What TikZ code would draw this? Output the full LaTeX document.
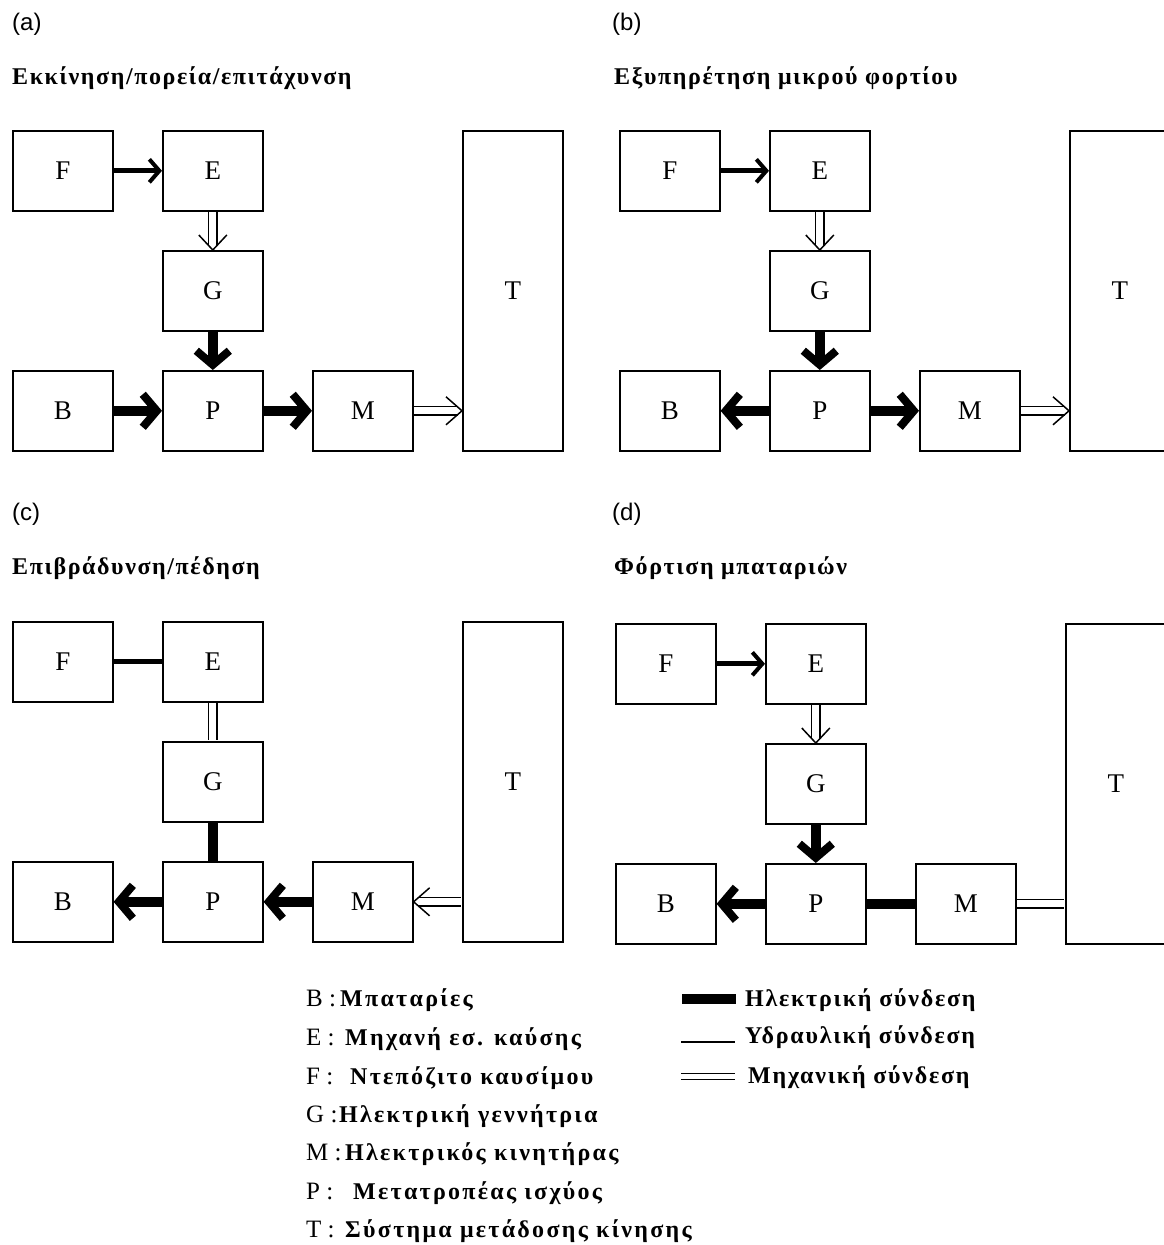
\documentclass[tikz,border=0pt]{standalone}
\usepackage{fontspec}
\setmainfont{Liberation Serif}
\newfontfamily\sanslab{Liberation Sans}
\newfontfamily\greektitle[LetterSpace=6.6]{Liberation Serif Bold}
\newfontfamily\greekkey[LetterSpace=9.5]{Liberation Serif Bold}
\newfontfamily\greeklink[LetterSpace=7.3]{Liberation Serif Bold}
\usetikzlibrary{arrows.meta,calc}

\tikzset{
  box/.style={draw, line width=1.6pt, minimum width=100pt, minimum height=80pt,
    anchor=north west, inner sep=0pt, font=\fontsize{27}{27}\selectfont},
  tallbox/.style={box, minimum height=320pt},
  elec/.style={line width=10pt},
  elecarr/.style={elec, -{Straight Barb[length=14pt, width=33pt, line width=8pt]}},
  fuel/.style={line width=5pt},
  fuelarr/.style={fuel, -{Straight Barb[length=10pt, width=23pt, line width=4pt]}},
  mech/.style={double, double distance=7pt, line width=1.5pt, shorten <=0.8pt},
  mechend/.style={mech, shorten >=4.5pt},
  barb/.style={line width=1.5pt, line join=miter},
  panellabel/.style={anchor=west, inner sep=0pt, font=\sanslab\fontsize{24}{24}\selectfont},
  paneltitle/.style={anchor=west, inner sep=0pt, font=\greektitle\fontsize{24}{24}\selectfont},
  keyletter/.style={anchor=base west, inner sep=0pt, font=\fontsize{25}{25}\selectfont},
  keytext/.style={anchor=base west, inner sep=0pt, font=\greekkey\fontsize{24}{24}\selectfont},
  linktext/.style={anchor=base west, inner sep=0pt, font=\greeklink\fontsize{24}{24}\selectfont},
}

% the seven blocks of one operating mode, prefixed by #1
\newcommand\modeblocks[1]{%
  \node[box] (#1F) at (0,0) {F};
  \node[box] (#1E) at (150,0) {E};
  \node[box] (#1G) at (150,120) {G};
  \node[box] (#1P) at (150,240) {P};
  \node[box] (#1B) at (0,240) {B};
  \node[box] (#1M) at (300,240) {M};
  \node[tallbox] (#1T) at (450,0) {T};
  \coordinate (#1MT) at (#1M.east -| #1T.west);
}
% open chevron of a mechanical link
\newcommand\tipdown[1]{\draw[barb] ($(#1)+(-14,-15)$) -- (#1) -- ($(#1)+(14,-15)$);}
\newcommand\tipright[1]{\draw[barb] ($(#1)+(-16,-14)$) -- (#1) -- ($(#1)+(-16,14)$);}
\newcommand\tipleft[1]{\draw[barb] ($(#1)+(16,-14)$) -- (#1) -- ($(#1)+(16,14)$);}

\begin{document}
\begin{tikzpicture}[x=1pt, y=-1pt]
\useasboundingbox (0,0) rectangle (1164,1245);
\fill[white] (0,0) rectangle (1164,1245);

% (a) start / cruise / acceleration
\node[panellabel] (la) at (12,24) {(a)};
\node[paneltitle] (ta) at (12,78) {Εκκίνηση/πορεία/επιτάχυνση};
\begin{scope}[shift={(12,130)}]
  \modeblocks{a}
\end{scope}
\draw[fuelarr] (aF) -- (aE);
\draw[mechend] (aE.south) -- (aG.north); \tipdown{aG.north}
\draw[elecarr] (aG) -- (aP);
\draw[elecarr] (aB) -- (aP);
\draw[elecarr] (aP) -- (aM);
\draw[mechend] (aM.east) -- (aMT); \tipright{aMT}

% (b) low-load operation
\node[panellabel] (lb) at (612,24) {(b)};
\node[paneltitle] (tb) at (614,78) {Εξυπηρέτηση μικρού φορτίου};
\begin{scope}[shift={(619,130)}]
  \modeblocks{b}
\end{scope}
\draw[fuelarr] (bF) -- (bE);
\draw[mechend] (bE.south) -- (bG.north); \tipdown{bG.north}
\draw[elecarr] (bG) -- (bP);
\draw[elecarr] (bP) -- (bB);
\draw[elecarr] (bP) -- (bM);
\draw[mechend] (bM.east) -- (bMT); \tipright{bMT}

% (c) deceleration / braking
\node[panellabel] (lc) at (12,514) {(c)};
\node[paneltitle] (tc) at (12,568) {Επιβράδυνση/πέδηση};
\begin{scope}[shift={(12,621)}]
  \modeblocks{c}
\end{scope}
\draw[fuel] (cF) -- (cE);
\draw[mech, shorten >=0.8pt] (cE.south) -- (cG.north);
\draw[elec] (cG) -- (cP);
\draw[elecarr] (cP) -- (cB);
\draw[elecarr] (cM) -- (cP);
\draw[mech, shorten <=4.5pt, shorten >=0.8pt] (cM.east) -- (cMT); \tipleft{cM.east}

% (d) battery charging
\node[panellabel] (ld) at (612,514) {(d)};
\node[paneltitle] (td) at (614,568) {Φόρτιση μπαταριών};
\begin{scope}[shift={(615,623)}]
  \modeblocks{d}
\end{scope}
\draw[fuelarr] (dF) -- (dE);
\draw[mechend] (dE.south) -- (dG.north); \tipdown{dG.north}
\draw[elecarr] (dG) -- (dP);
\draw[elecarr] (dP) -- (dB);
\draw[elec] (dP) -- (dM);
\draw[mech, shorten >=0.8pt] (dM.east) -- (dMT);

% key to the blocks (baselines)
\node[keyletter] (kB) at (306,1006) {B :};
\node[keytext]   (dB1) at (340,1006) {Μπαταρίες};
\node[keyletter] (kE) at (306,1045) {E :};
\node[keytext]   (dE1) at (345,1045) {Μηχανή εσ. καύσης};
\node[keyletter] (kF) at (306,1084) {F :};
\node[keytext]   (dF1) at (350,1084) {Ντεπόζιτο καυσίμου};
\node[keyletter] (kG) at (306,1122) {G :};
\node[keytext]   (dG1) at (339,1122) {Ηλεκτρική γεννήτρια};
\node[keyletter] (kM) at (306,1160) {M :};
\node[keytext]   (dM1) at (345,1160) {Ηλεκτρικός κινητήρας};
\node[keyletter] (kP) at (306,1199) {P :};
\node[keytext]   (dP1) at (353,1199) {Μετατροπέας ισχύος};
\node[keyletter] (kT) at (306,1237) {T :};
\node[keytext]   (dT1) at (345,1237) {Σύστημα μετάδοσης κίνησης};

% key to the link types
\coordinate (le1) at (682,999); \coordinate (le2) at (736,999);
\draw[line width=10pt] (le1) -- (le2);
\node[linktext] (lte) at (745,1006) {Ηλεκτρική σύνδεση};
\coordinate (lh1) at (681,1042); \coordinate (lh2) at (735,1042);
\draw[line width=1.2pt] (lh1) -- (lh2);
\node[linktext] (lth) at (745,1043) {Υδραυλική σύνδεση};
\coordinate (lm1) at (681,1076.5); \coordinate (lm2) at (735,1076.5);
\draw[double, double distance=5.5pt, line width=1.2pt] (lm1) -- (lm2);
\node[linktext] (ltm) at (748,1083) {Μηχανική σύνδεση};
\end{tikzpicture}
\end{document}
